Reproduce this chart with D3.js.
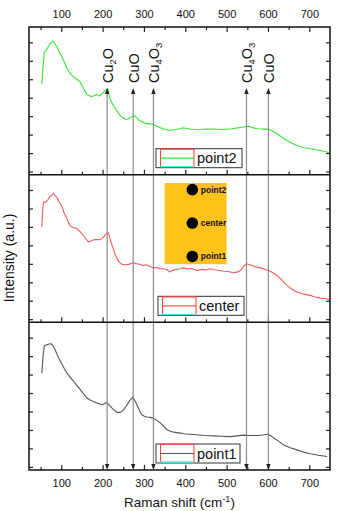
<!DOCTYPE html>
<html>
<head>
<meta charset="utf-8">
<script src="https://cdn.jsdelivr.net/npm/d3@7"></script>
<style>
  body { margin: 0; background: #fff; }
  svg { display: block; font-family: "Liberation Sans", Arial, sans-serif; }
</style>
</head>
<body>
<svg id="chart" width="339" height="511"></svg>
<script>
// Raman spectra, [shift (cm-1), intensity (a.u.)]
const point2 = [
  [53, 4.76], [59, 6.47], [65, 6.62], [72, 6.9], [79, 7.07], [84, 6.95], [90, 6.74], [96, 6.45], [102, 6.2],
  [108, 5.9], [114, 5.57], [122, 5.3], [130, 5.12], [138, 5.0], [146, 4.85], [154, 4.5], [162, 4.18],
  [168, 4.1], [174, 4.07], [180, 4.12], [186, 4.18], [190, 4.1], [194, 4.11], [202, 4.3], [208, 4.42],
  [212, 4.49], [218, 3.94], [224, 3.65], [231, 3.4], [242, 3.04], [250, 2.9], [257, 2.82], [262, 2.85],
  [267, 2.91], [272, 3.0], [277, 3.04], [282, 2.92], [287, 2.81], [295, 2.7], [303, 2.62], [313, 2.58],
  [323, 2.55], [331, 2.45], [340, 2.37], [352, 2.28], [364, 2.22], [376, 2.28], [388, 2.32], [395, 2.37],
  [410, 2.3], [428, 2.26], [448, 2.3], [468, 2.3], [488, 2.28], [509, 2.3], [525, 2.36], [537, 2.4],
  [546, 2.44], [553, 2.45], [563, 2.38], [573, 2.32], [588, 2.3], [601, 2.3], [611, 2.2], [622, 2.05],
  [634, 1.86], [646, 1.68], [658, 1.53], [670, 1.41], [686, 1.3], [702, 1.23], [726, 1.14], [747, 1.03]
];
const center = [
  [53, 4.99], [55, 5.9], [57, 6.35], [62, 6.33], [65, 6.39], [70, 6.55], [73, 6.66], [77, 6.7], [81, 6.84],
  [85, 6.7], [90, 6.58], [95, 6.35], [102, 6.08], [108, 5.7], [114, 5.44], [120, 5.1], [126, 4.99],
  [132, 4.95], [138, 4.9], [144, 4.78], [150, 4.63], [158, 4.4], [166, 4.18], [172, 4.24], [178, 4.3],
  [186, 4.32], [192, 4.3], [198, 4.36], [204, 4.5], [209, 4.63], [214, 4.68], [218, 4.35], [223, 4.0],
  [229, 3.6], [235, 3.27], [241, 3.08], [247, 2.97], [255, 2.95], [263, 2.97], [269, 3.02], [275, 3.05],
  [283, 3.0], [291, 2.97], [299, 2.9], [305, 2.95], [311, 2.89], [317, 2.84], [323, 2.78], [331, 2.8],
  [339, 2.74], [347, 2.73], [356, 2.68], [362, 2.56], [368, 2.64], [378, 2.7], [388, 2.73], [396, 2.78],
  [405, 2.72], [416, 2.75], [428, 2.64], [440, 2.7], [450, 2.66], [460, 2.73], [470, 2.68], [482, 2.64],
  [493, 2.6], [505, 2.58], [515, 2.52], [525, 2.55], [532, 2.62], [537, 2.73], [542, 2.88], [548, 3.0],
  [556, 2.95], [565, 2.88], [573, 2.82], [583, 2.78], [592, 2.7], [602, 2.64], [612, 2.52], [622, 2.37],
  [634, 2.1], [646, 1.83], [658, 1.62], [670, 1.47], [686, 1.36], [702, 1.29], [714, 1.2], [727, 1.14],
  [738, 1.12], [749, 1.07]
];
const point1 = [
  [53, 5.08], [56, 6.0], [59, 6.57], [65, 6.62], [73, 6.67], [77, 6.65], [81, 6.53], [86, 6.3], [90, 6.08],
  [96, 5.8], [102, 5.54], [108, 5.3], [114, 5.08], [122, 4.85], [130, 4.63], [138, 4.4], [146, 4.18],
  [154, 3.95], [162, 3.73], [170, 3.62], [178, 3.54], [188, 3.45], [198, 3.36], [204, 3.42], [210, 3.49],
  [216, 3.35], [223, 3.18], [229, 3.05], [235, 2.95], [241, 2.95], [247, 3.0], [253, 3.15], [259, 3.36],
  [266, 3.6], [273, 3.78], [278, 3.6], [283, 3.36], [289, 3.05], [295, 2.82], [301, 2.74], [307, 2.7],
  [315, 2.68], [323, 2.64], [331, 2.52], [340, 2.37], [348, 2.2], [356, 2.01], [364, 1.93], [372, 1.88],
  [388, 1.83], [396, 1.79], [412, 1.77], [428, 1.74], [448, 1.7], [468, 1.68], [488, 1.66], [509, 1.64],
  [525, 1.68], [541, 1.72], [557, 1.7], [573, 1.7], [587, 1.73], [599, 1.77], [606, 1.7], [614, 1.56],
  [626, 1.38], [638, 1.19], [654, 1.04], [670, 0.92], [686, 0.8], [702, 0.71], [722, 0.63], [743, 0.56]
];

const panels = [
  { name: "point2", data: point2, color: "#33e833" },
  { name: "center", data: center, color: "#f45b5b" },
  { name: "point1", data: point1, color: "#555555" }
];

// assignment lines (cm-1) with labels: [main, sub, main, sub]
const peaks = [
  { v: 211, parts: ["Cu", "2", "O", ""] },
  { v: 274, parts: ["Cu", "", "O", ""] },
  { v: 323, parts: ["Cu", "4", "O", "3"] },
  { v: 548, parts: ["Cu", "4", "O", "3"] },
  { v: 601, parts: ["Cu", "", "O", ""] }
];

const xMajor = [100, 200, 300, 400, 500, 600, 700];
const xMinor = [50, 150, 250, 350, 450, 550, 650];
const yTicks = [0, 1, 2, 3, 4, 5, 6, 7];

// sample-position inset (drawn in the middle panel's data units)
const insetBox = { x0: 350, x1: 500, y0: 2.98, y1: 7.38 };
const insetDots = [
  { label: "point2", x: 417, y: 7.02 },
  { label: "center", x: 417, y: 5.21 },
  { label: "point1", x: 417, y: 3.40 }
];

const margin = { top: 27, right: 9, bottom: 41, left: 29 };
const W = 339, H = 511;
const plotW = W - margin.left - margin.right;
const plotH = H - margin.top - margin.bottom;
const panelH = plotH / 3;

const svg = d3.select("#chart");

const x = d3.scaleLinear().domain([22, 750]).range([margin.left, margin.left + plotW]);

const line = y => d3.line().x(d => x(d[0])).y(d => y(d[1])).curve(d3.curveLinear);

panels.forEach((p, i) => {
  const top = margin.top + i * panelH;
  const bottom = top + panelH;
  const y = d3.scaleLinear().domain([-0.17, 7.83]).range([bottom, top]);
  p.y = y;
  p.top = top;
  p.bottom = bottom;

  const g = svg.append("g");

  // inward x ticks along the panel's bottom
  g.append("g").attr("transform", `translate(0,${bottom})`)
    .call(d3.axisTop(x).tickValues(xMajor).tickSize(5).tickFormat(""));
  g.append("g").attr("transform", `translate(0,${bottom})`)
    .call(d3.axisTop(x).tickValues(xMinor).tickSize(3).tickFormat(""));

  // y ticks on both sides, no labels
  g.append("g").attr("transform", `translate(${margin.left},0)`)
    .call(d3.axisRight(y).tickValues(yTicks).tickSize(4).tickFormat(""));
  g.append("g").attr("transform", `translate(${margin.left + plotW},0)`)
    .call(d3.axisLeft(y).tickValues(yTicks).tickSize(4).tickFormat(""));

  g.selectAll(".domain").remove();
  g.selectAll(".tick line").attr("stroke", "#222").attr("stroke-width", 1.2);

  if (i === 1) {
    svg.append("rect")
      .attr("x", x(insetBox.x0)).attr("y", y(insetBox.y1))
      .attr("width", x(insetBox.x1) - x(insetBox.x0))
      .attr("height", y(insetBox.y0) - y(insetBox.y1))
      .attr("fill", "#fdc31b");
    insetDots.forEach(d => {
      svg.append("circle").attr("cx", x(d.x)).attr("cy", y(d.y)).attr("r", 5.8).attr("fill", "#000");
      svg.append("text").attr("x", x(d.x) + 8.5).attr("y", y(d.y) + 3)
        .attr("font-size", 8.5).attr("font-weight", "bold").attr("fill", "#111")
        .text(d.label);
    });
  }

  svg.append("path")
    .datum(p.data)
    .attr("fill", "none")
    .attr("stroke", p.color)
    .attr("stroke-width", 1.1)
    .attr("stroke-linejoin", "round")
    .attr("d", line(y));
});

// assignment lines with arrows at both ends
const arrowTop = 88;
const plotBottom = margin.top + plotH;
peaks.forEach(pk => {
  const px = x(pk.v);
  svg.append("line")
    .attr("x1", px).attr("x2", px)
    .attr("y1", arrowTop + 3).attr("y2", plotBottom - 3)
    .attr("stroke", "#8c8c8c").attr("stroke-width", 1.2);
  svg.append("path")
    .attr("d", `M${px},${arrowTop} L${px - 2.2},${arrowTop + 6} L${px + 2.2},${arrowTop + 6} Z`)
    .attr("fill", "#222");
  svg.append("path")
    .attr("d", `M${px},${plotBottom} L${px - 2.2},${plotBottom - 6} L${px + 2.2},${plotBottom - 6} Z`)
    .attr("fill", "#222");

  const t = svg.append("text")
    .attr("transform", `translate(${px + 5.5},${arrowTop - 5}) rotate(-90)`)
    .attr("font-size", 14.5)
    .attr("fill", "#111");
  t.append("tspan").text(pk.parts[0]);
  if (pk.parts[1]) t.append("tspan").attr("font-size", 9.5).attr("dy", 3.5).text(pk.parts[1]);
  t.append("tspan").attr("dy", pk.parts[1] ? -3.5 : 0).text(pk.parts[2]);
  if (pk.parts[3]) t.append("tspan").attr("font-size", 9.5).attr("dy", 3.5).text(pk.parts[3]);
});

// legends
panels.forEach((p, i) => {
  const bx = i === 1 ? 158 : 156;
  const bw = i === 2 ? 84 : 86;
  const bh = 19;
  const by = p.bottom - 7 - bh;
  const lg = svg.append("g");
  lg.append("rect").attr("x", bx).attr("y", by).attr("width", bw).attr("height", bh)
    .attr("fill", "#fff").attr("stroke", "#444").attr("stroke-width", 1.1);
  const sx0 = bx + 4.5, sx1 = bx + 38;
  lg.append("path")
    .attr("d", `M${sx0},${by + bh - 1} V${by + 0.5} H${sx1} V${by + bh - 1}`)
    .attr("fill", "none").attr("stroke", "#f44").attr("stroke-width", 1.1);
  lg.append("line").attr("x1", sx0).attr("x2", sx1).attr("y1", by + bh - 1).attr("y2", by + bh - 1)
    .attr("stroke", "#4ee8ee").attr("stroke-width", 1.3);
  lg.append("line").attr("x1", sx0).attr("x2", sx1).attr("y1", by + bh / 2).attr("y2", by + bh / 2)
    .attr("stroke", p.color).attr("stroke-width", 1.2);
  lg.append("text").attr("x", bx + 41).attr("y", by + bh / 2 + 5)
    .attr("font-size", 14.5).attr("fill", "#111").text(p.name);
});

// top axis: ticks down + labels above
const topAxis = svg.append("g").attr("transform", `translate(0,${margin.top})`);
topAxis.append("g").call(d3.axisBottom(x).tickValues(xMajor).tickSize(5).tickFormat(""));
topAxis.append("g").call(d3.axisBottom(x).tickValues(xMinor).tickSize(3).tickFormat(""));
topAxis.append("g").call(d3.axisTop(x).tickValues(xMajor).tickSize(0).tickPadding(9));
topAxis.selectAll(".domain").remove();
topAxis.selectAll(".tick line").attr("stroke", "#222").attr("stroke-width", 1.2);

// bottom axis labels
const botAxis = svg.append("g").attr("transform", `translate(0,${plotBottom})`)
  .call(d3.axisBottom(x).tickValues(xMajor).tickSize(0).tickPadding(9));
botAxis.select(".domain").remove();

svg.selectAll(".tick text").attr("font-size", 11).attr("fill", "#111")
  .attr("font-family", "'Liberation Sans', Arial, sans-serif");

// frame and panel separators
svg.append("rect")
  .attr("x", margin.left).attr("y", margin.top).attr("width", plotW).attr("height", plotH)
  .attr("fill", "none").attr("stroke", "#111").attr("stroke-width", 1.5);
[1, 2].forEach(k => {
  svg.append("line")
    .attr("x1", margin.left).attr("x2", margin.left + plotW)
    .attr("y1", margin.top + k * panelH).attr("y2", margin.top + k * panelH)
    .attr("stroke", "#111").attr("stroke-width", 1.5);
});

// axis titles
const xt = svg.append("text")
  .attr("x", margin.left + plotW / 2).attr("y", 507)
  .attr("text-anchor", "middle").attr("font-size", 13.5).attr("fill", "#111");
xt.append("tspan").text("Raman shift (cm");
xt.append("tspan").attr("font-size", 9).attr("dy", -5).text("-1");
xt.append("tspan").attr("dy", 5).text(")");

svg.append("text")
  .attr("transform", `translate(13.5,258) rotate(-90)`)
  .attr("text-anchor", "middle").attr("font-size", 14).attr("fill", "#111")
  .text("Intensity (a.u.)");
</script>
</body>
</html>
